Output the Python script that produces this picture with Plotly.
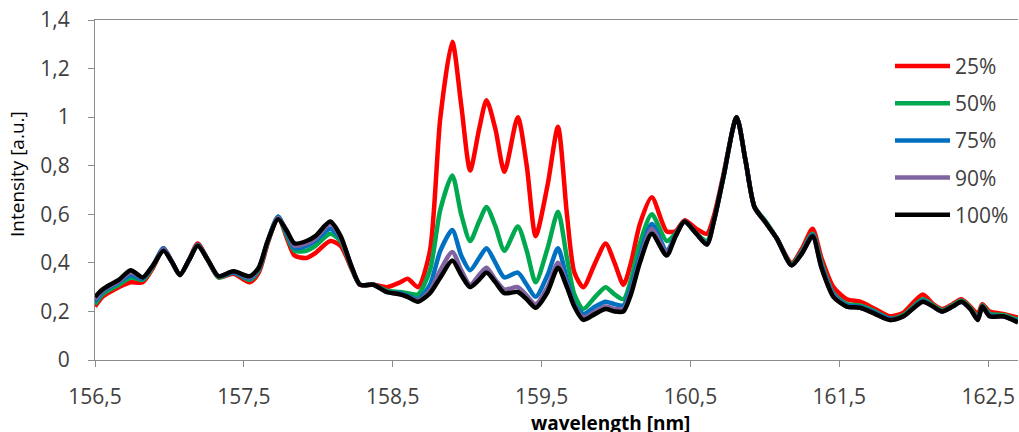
import plotly.graph_objects as go

# ---------------- data ----------------
wavelength = [156.50, 156.55, 156.60, 156.66, 156.74, 156.82, 156.89, 156.96, 157.02, 157.07,
              157.13, 157.19, 157.26, 157.33, 157.43, 157.54, 157.60, 157.66, 157.73, 157.79,
              157.84, 157.92, 157.98, 158.08, 158.15, 158.22, 158.28, 158.37, 158.46, 158.55,
              158.60, 158.67, 158.75, 158.82, 158.90, 158.96, 159.02, 159.08, 159.13, 159.19,
              159.25, 159.34, 159.40, 159.46, 159.54, 159.61, 159.67, 159.72, 159.78, 159.86,
              159.93, 159.99, 160.05, 160.10, 160.16, 160.24, 160.34, 160.40, 160.46, 160.54,
              160.61, 160.66, 160.72, 160.81, 160.87, 160.93, 161.00, 161.08, 161.18, 161.25,
              161.32, 161.38, 161.46, 161.55, 161.64, 161.74, 161.84, 161.93, 162.06, 162.13,
              162.19, 162.26, 162.32, 162.38, 162.43, 162.46, 162.51, 162.60, 162.70]

p25 = [0.22, 0.26, 0.28, 0.30, 0.32, 0.32, 0.38, 0.46, 0.40, 0.35,
       0.41, 0.48, 0.41, 0.34, 0.355, 0.32, 0.36, 0.48, 0.59, 0.50,
       0.43, 0.42, 0.44, 0.49, 0.47, 0.38, 0.31, 0.31, 0.30, 0.32,
       0.335, 0.30, 0.45, 1.00, 1.31, 1.05, 0.78, 0.95, 1.07, 0.95,
       0.775, 1.00, 0.80, 0.51, 0.72, 0.96, 0.60, 0.36, 0.30, 0.40,
       0.48, 0.40, 0.31, 0.40, 0.56, 0.67, 0.53, 0.53, 0.575, 0.54,
       0.52, 0.60, 0.76, 1.00, 0.82, 0.63, 0.57, 0.50, 0.40, 0.46,
       0.54, 0.42, 0.30, 0.25, 0.24, 0.21, 0.18, 0.195, 0.27, 0.23,
       0.21, 0.23, 0.25, 0.22, 0.19, 0.23, 0.20, 0.19, 0.175]

p50 = [0.23, 0.27, 0.29, 0.31, 0.34, 0.33, 0.385, 0.455, 0.40, 0.35,
       0.41, 0.475, 0.41, 0.34, 0.36, 0.33, 0.37, 0.485, 0.59, 0.51,
       0.45, 0.45, 0.47, 0.52, 0.49, 0.385, 0.31, 0.31, 0.285, 0.28,
       0.275, 0.27, 0.37, 0.62, 0.76, 0.60, 0.49, 0.57, 0.63, 0.55,
       0.45, 0.55, 0.45, 0.32, 0.46, 0.61, 0.42, 0.27, 0.21, 0.26,
       0.30, 0.27, 0.25, 0.33, 0.48, 0.60, 0.49, 0.52, 0.57, 0.52,
       0.49, 0.58, 0.75, 1.00, 0.82, 0.63, 0.575, 0.50, 0.395, 0.45,
       0.52, 0.40, 0.275, 0.23, 0.225, 0.20, 0.17, 0.185, 0.25, 0.225,
       0.205, 0.225, 0.245, 0.215, 0.175, 0.225, 0.19, 0.185, 0.165]

p75 = [0.24, 0.28, 0.30, 0.32, 0.35, 0.335, 0.39, 0.46, 0.40, 0.35,
       0.41, 0.475, 0.41, 0.345, 0.36, 0.335, 0.375, 0.49, 0.59, 0.52,
       0.46, 0.47, 0.49, 0.54, 0.50, 0.39, 0.31, 0.31, 0.28, 0.275,
       0.265, 0.25, 0.31, 0.45, 0.535, 0.43, 0.37, 0.42, 0.46, 0.40,
       0.34, 0.36, 0.31, 0.26, 0.35, 0.46, 0.33, 0.23, 0.19, 0.22,
       0.24, 0.23, 0.225, 0.30, 0.43, 0.56, 0.45, 0.515, 0.57, 0.52,
       0.48, 0.58, 0.75, 1.00, 0.82, 0.63, 0.57, 0.50, 0.39, 0.445,
       0.515, 0.39, 0.27, 0.225, 0.22, 0.195, 0.17, 0.18, 0.245, 0.22,
       0.20, 0.22, 0.24, 0.21, 0.17, 0.22, 0.185, 0.18, 0.16]

p90 = [0.25, 0.285, 0.305, 0.325, 0.36, 0.34, 0.39, 0.455, 0.40, 0.35,
       0.41, 0.47, 0.41, 0.345, 0.365, 0.34, 0.38, 0.49, 0.585, 0.53,
       0.47, 0.48, 0.50, 0.56, 0.505, 0.39, 0.31, 0.31, 0.28, 0.27,
       0.26, 0.245, 0.285, 0.37, 0.445, 0.37, 0.31, 0.35, 0.38, 0.33,
       0.29, 0.30, 0.265, 0.23, 0.30, 0.40, 0.31, 0.225, 0.175, 0.20,
       0.22, 0.21, 0.21, 0.28, 0.41, 0.54, 0.44, 0.51, 0.57, 0.52,
       0.475, 0.58, 0.75, 1.00, 0.82, 0.63, 0.57, 0.50, 0.39, 0.44,
       0.51, 0.38, 0.265, 0.22, 0.215, 0.19, 0.165, 0.18, 0.24, 0.22,
       0.20, 0.22, 0.24, 0.21, 0.165, 0.22, 0.18, 0.18, 0.155]

p100 = [0.26, 0.29, 0.31, 0.33, 0.37, 0.34, 0.39, 0.45, 0.40, 0.35,
        0.41, 0.47, 0.41, 0.345, 0.365, 0.345, 0.38, 0.49, 0.58, 0.53,
        0.48, 0.49, 0.51, 0.57, 0.51, 0.39, 0.31, 0.31, 0.28, 0.27,
        0.26, 0.24, 0.275, 0.34, 0.41, 0.35, 0.30, 0.33, 0.36, 0.32,
        0.275, 0.28, 0.25, 0.215, 0.28, 0.38, 0.30, 0.22, 0.165, 0.19,
        0.21, 0.20, 0.20, 0.27, 0.40, 0.52, 0.43, 0.51, 0.57, 0.52,
        0.475, 0.58, 0.75, 1.00, 0.82, 0.63, 0.57, 0.50, 0.39, 0.44,
        0.51, 0.38, 0.26, 0.22, 0.215, 0.19, 0.165, 0.18, 0.24, 0.22,
        0.20, 0.22, 0.24, 0.21, 0.165, 0.22, 0.18, 0.18, 0.155]

series_names = ["25%", "50%", "75%", "90%", "100%"]
series_values = [p25, p50, p75, p90, p100]
series_colors = ["#FF0000", "#00A94F", "#0070C0", "#8064A2", "#000000"]

x_tick_vals = [156.5, 157.5, 158.5, 159.5, 160.5, 161.5, 162.5]
x_tick_text = ["156,5", "157,5", "158,5", "159,5", "160,5", "161,5", "162,5"]
y_tick_vals = [0, 0.2, 0.4, 0.6, 0.8, 1.0, 1.2, 1.4]
y_tick_text = ["0", "0,2", "0,4", "0,6", "0,8", "1", "1,2", "1,4"]

# ---------------- figure ----------------
FONT = "Open Sans"
TXT = "#404040"
AX = "#8c8c8c"

W, H = 1019, 432
ML, MR, MT, MB = 95, 1, 20, 72
PW, PH = W - ML - MR, H - MT - MB


def px_to_paper_x(px):
    return (px - ML) / PW


def px_to_paper_y(py):
    return (H - MB - py) / PH


fig = go.Figure()
for name, vals, col in zip(series_names, series_values, series_colors):
    fig.add_trace(go.Scatter(
        x=wavelength, y=vals, name=name, mode="lines",
        line=dict(color=col, width=4.5, shape="spline", smoothing=0.7),
        showlegend=False,
    ))

# hand-drawn legend (long line samples like the original)
shapes = []
annotations = []
leg_x0, leg_x1, leg_y0, leg_dy = 895, 950, 66, 37.2
for i, (name, col) in enumerate(zip(series_names, series_colors)):
    yy = px_to_paper_y(leg_y0 + i * leg_dy)
    shapes.append(dict(type="line", xref="paper", yref="paper",
                       x0=px_to_paper_x(leg_x0), x1=px_to_paper_x(leg_x1), y0=yy, y1=yy,
                       line=dict(color=col, width=4.5)))
    annotations.append(dict(text=name, xref="paper", yref="paper",
                            x=px_to_paper_x(leg_x1 + 3), y=yy, xanchor="left", yanchor="middle",
                            showarrow=False, font=dict(family=FONT, size=21, color=TXT)))

annotations += [
    dict(text="Intensity [a.u.]", xref="paper", yref="paper",
         x=px_to_paper_x(17), y=px_to_paper_y(174), xanchor="center", yanchor="middle",
         textangle=-90, showarrow=False,
         font=dict(family=FONT, size=19, color="#000000")),
    dict(text="<b>wavelength [nm]</b>", xref="paper", yref="paper",
         x=px_to_paper_x(610), y=px_to_paper_y(423), xanchor="center", yanchor="middle",
         showarrow=False,
         font=dict(family=FONT, size=19, color="#000000")),
]

fig.update_layout(
    width=W, height=H,
    margin=dict(l=ML, r=MR, t=MT, b=MB),
    paper_bgcolor="white", plot_bgcolor="white",
    font=dict(family=FONT, size=21, color=TXT),
    showlegend=False,
    shapes=shapes,
    annotations=annotations,
    xaxis=dict(
        range=[156.5, 162.7], tickvals=x_tick_vals, ticktext=x_tick_text,
        showgrid=False, zeroline=False, showline=True, linecolor=AX, linewidth=1,
        mirror=True, ticks="outside", ticklen=6, tickcolor=AX,
        ticklabelstandoff=12, tickfont=dict(family=FONT, size=21, color=TXT),
    ),
    yaxis=dict(
        range=[0, 1.4], tickvals=y_tick_vals, ticktext=y_tick_text,
        showgrid=False, zeroline=False, showline=True, linecolor=AX, linewidth=1,
        ticks="outside", ticklen=6, tickcolor=AX,
        ticklabelstandoff=14, tickfont=dict(family=FONT, size=21, color=TXT),
    ),
)

fig.write_html("out.html", config={"displayModeBar": False},
               post_script="document.body.style.margin='0';")
